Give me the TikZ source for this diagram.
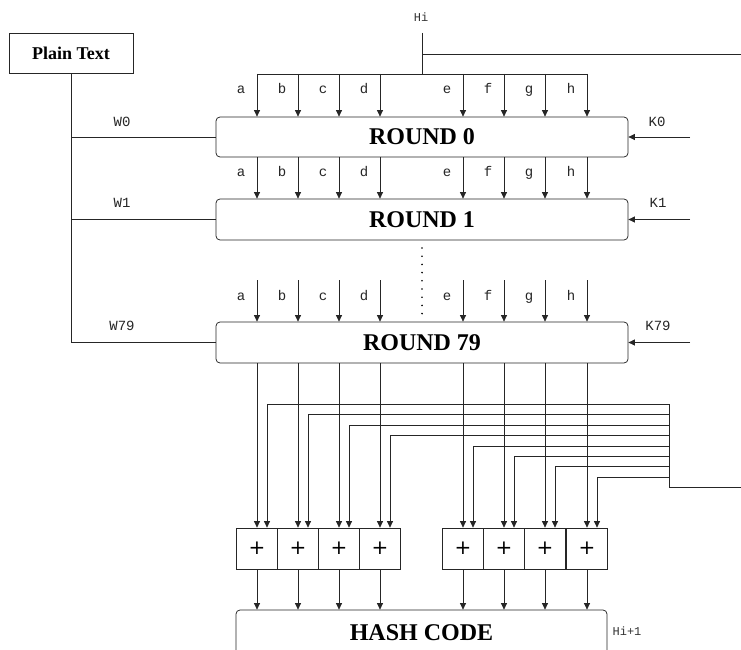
\documentclass[tikz,border=0pt]{standalone}
\usepackage{fontspec}
\setmainfont{Liberation Serif}
\newfontfamily\monofam{Liberation Mono}
\newfontfamily\plusfam{DejaVu Sans}
\usetikzlibrary{arrows.meta}
\begin{document}
\begin{tikzpicture}[x=1pt,y=-1pt,
  line/.style={draw=black!85, line width=0.75pt},
  arr/.style={line, -{Triangle[length=6.5pt,width=6pt]}},
  roundbox/.style={line, rounded corners=4pt, minimum width=412pt, minimum height=40pt, inner sep=0pt, font=\fontsize{24}{24}\selectfont\bfseries},
  sumbox/.style={line, minimum width=41pt, minimum height=41pt, inner sep=0pt, font=\plusfam\fontsize{20}{20}\selectfont},
  lbl/.style={font=\monofam\fontsize{14}{14}\selectfont, text=black!85, inner sep=0pt},
  colbl/.style={lbl, anchor=base},
  slbl/.style={font=\monofam\fontsize{12}{12}\selectfont, text=black!80, inner sep=0pt}]
\useasboundingbox[fill=white] (0,0) rectangle (741,650);

% boxes
\node[line, minimum width=124pt, minimum height=40pt, inner sep=0pt, font=\fontsize{18}{18}\selectfont\bfseries] (pt) at (71,53) {Plain Text};
\node[roundbox] (r0) at (422,137) {ROUND 0};
\node[roundbox, minimum height=41pt] (r1) at (422,219.5) {ROUND 1};
\node[roundbox, minimum height=41pt] (r79) at (422,342.5) {ROUND 79};
\node[line, rounded corners=4pt, minimum width=371pt, minimum height=46pt, inner sep=0pt, font=\fontsize{24}{24}\selectfont\bfseries] (hc) at (421.5,633) {HASH CODE};

% Hi input
\node[slbl] (hil) at (421,17) {Hi};
\coordinate (hitop) at (422,33);
\coordinate (hibus) at (422,74);
\coordinate (hiR) at (741,54);
\coordinate (busL) at (257,74);
\coordinate (busR) at (587,74);
\draw[line] (hitop) -- (hibus);
\draw[line] (busL) -- (busR);
\draw[line] (hitop |- hiR) -- (hiR);

% W inputs
\draw[line] (pt.south) -- (pt.south |- r79.west) -- (r79.west);
\draw[line] (pt.south |- r0.west) -- (r0.west);
\draw[line] (pt.south |- r1.west) -- (r1.west);
\node[lbl] (w0) at (122,122) {W0};
\node[lbl] (w1) at (122,203) {W1};
\node[lbl] (w79) at (122,326) {W79};

% K inputs
\coordinate (kx) at (690,0);
\draw[arr] (kx |- r0.east) -- (r0.east);
\draw[arr] (kx |- r1.east) -- (r1.east);
\draw[arr] (kx |- r79.east) -- (r79.east);
\node[lbl] (k0) at (657,122) {K0};
\node[lbl] (k1) at (658,203) {K1};
\node[lbl] (k79) at (658,326) {K79};

% dotted continuation
\coordinate (dotA) at (422,248);
\draw[draw=black, line width=1.8pt, line cap=round, dash pattern=on 0pt off 8.2pt] (dotA) -- (dotA |- r79.north);

% feedback trunk
\coordinate (fbTop) at (669,404);
\coordinate (fbBot) at (669,487);
\coordinate (fbIn) at (741,487);
\draw[line] (fbIn) -- (fbBot) -- (fbTop);

% columns
\foreach \x/\n/\fy in {257/a/404,298/b/414,339/c/425,380/d/435,463/e/446,504/f/456,545/g/466,587/h/477}{
  \coordinate (t0\n) at (\x,74);
  \draw[arr] (t0\n) -- (t0\n |- r0.north);
  \node[colbl] at (\x-16,94) {\n};
  \draw[arr] (t0\n |- r0.south) -- (t0\n |- r1.north);
  \node[colbl] at (\x-16,176) {\n};
  \coordinate (t2\n) at (\x,280);
  \draw[arr] (t2\n) -- (t2\n |- r79.north);
  \node[colbl] at (\x-16,300) {\n};
  \node[sumbox] (s\n) at (\x,548.5) {+};
  \draw[arr] (t2\n |- r79.south) -- (s\n.north);
  \coordinate (fbR\n) at (669,\fy);
  \coordinate (fb\n) at (\x+10,\fy);
  \draw[arr] (fbR\n) -- (fb\n) -- (fb\n |- s\n.north);
  \draw[arr] (s\n.south) -- (s\n.south |- hc.north);
}

\node[slbl] (hi1) at (627,631) {Hi+1};
\end{tikzpicture}
\end{document}
